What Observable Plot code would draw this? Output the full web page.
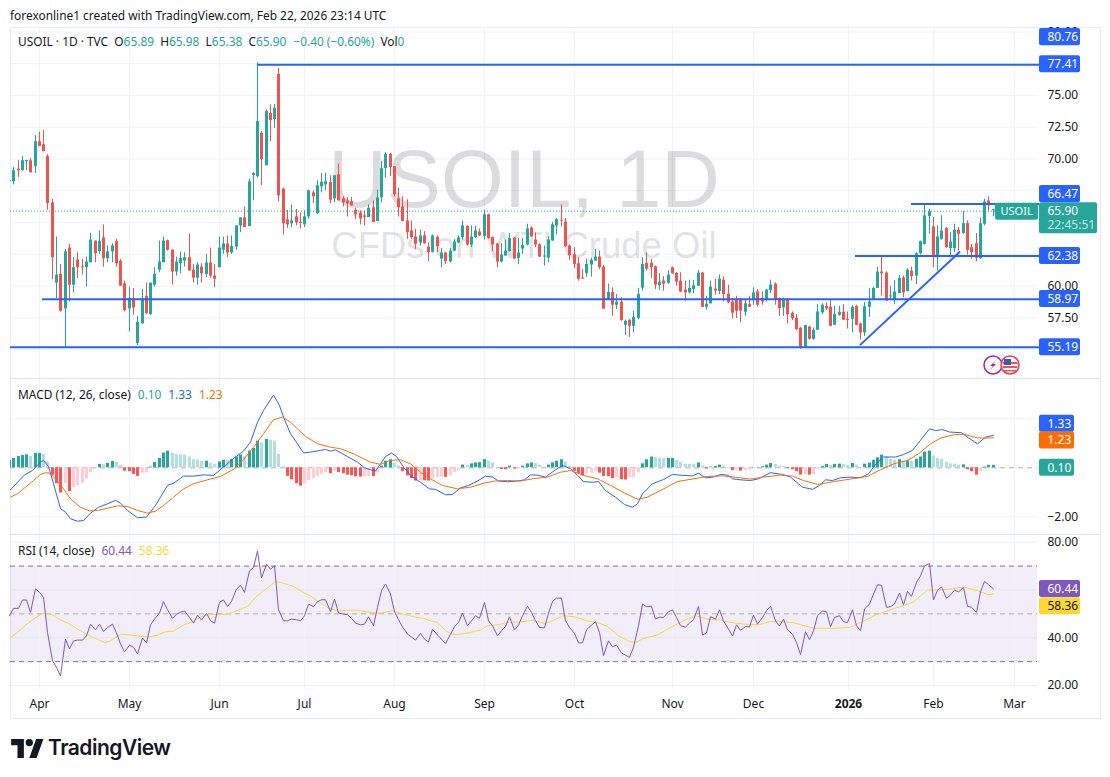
<!DOCTYPE html>
<html><head><meta charset="utf-8">
<script src="https://cdn.jsdelivr.net/npm/d3@7"></script>
<script src="https://cdn.jsdelivr.net/npm/@observablehq/plot@0.6"></script>
<style>
html,body{margin:0;padding:0;background:#fff;}
#page{position:relative;width:1110px;height:777px;overflow:hidden;font-family:"Noto Sans",sans-serif;color:#131722;font-size:11.9px;}
#frame{position:absolute;left:10px;top:27px;width:1089px;height:690px;border:1px solid #e9ebf2;box-sizing:content-box;}
.sep{position:absolute;left:10px;width:1090px;height:1px;background:#e0e3eb;}
.pane{position:absolute;left:0;width:1110px;}
.pane svg{display:block;}
.txt{position:absolute;white-space:nowrap;line-height:14px;}
.txt span{margin-left:7px;}
</style></head>
<body><div id="page">
<div id="frame"></div>
<div class="pane" id="p1" style="top:0"></div>
<div class="pane" id="p2" style="top:378px"></div>
<div class="pane" id="p3" style="top:534px"></div>
<div class="sep" style="top:378px"></div>
<div class="sep" style="top:534px"></div>
<div class="txt" style="left:10px;top:8px">forexonline1 created with TradingView.com, Feb 22, 2026 23:14 UTC</div>
<div class="txt" id="lg1" style="left:18px;top:34px"></div>
<div class="txt" id="lg2" style="left:18px;top:387px"></div>
<div class="txt" id="lg3" style="left:18px;top:543px"></div>
<svg style="position:absolute;left:11px;top:738px" width="33" height="20" viewBox="0 0 36 22"><path d="M14 22H7V8H0V1h14v21zM28 22h-8l7.5-21h8L28 22z" fill="#131722"/><circle cx="20" cy="5" r="4" fill="#131722"/></svg>
<div class="txt" style="left:48px;top:736px;font:600 21px/24px Inter,sans-serif;letter-spacing:-.5px">TradingView</div>
<svg style="position:absolute;left:982px;top:354px" width="40" height="24">
<circle cx="11" cy="11" r="9" fill="#fff" stroke="#9c27b0" stroke-width="1.5"/>
<path d="M14 6l-6 6h3l-3 4 6-6h-3z" fill="#9c27b0"/>
<circle cx="28" cy="11" r="9" fill="#fff" stroke="#f23645" stroke-width="1.5"/>
<path d="M20.5 8h15v2h-15zM20.5 12h15v2h-15zM22 16h12v1.5H22z" fill="#f0525f"/><rect x="22" y="5" width="7" height="6" fill="#3d5aa8"/>
</svg>
</div>
<script>
// ---------- daily candles ----------
const opens=[68.18,68.13,69.13,69.00,69.74,69.79,69.34,71.29,71.05,70.11,
66.47,60.16,60.84,58.13,62.92,60.00,61.97,61.42,61.37,61.76,
63.47,62.63,63.71,62.08,62.61,63.42,61.89,60.11,58.13,58.87,
55.42,56.95,59.13,57.68,60.00,61.18,61.76,63.50,62.76,61.03,
61.68,61.89,62.16,61.18,60.55,61.42,60.84,61.74,60.71,61.37,
62.76,63.24,62.53,63.00,64.66,65.29,64.61,68.63,68.53,71.95,
69.39,73.50,73.03,76.58,67.55,65.13,64.82,65.37,64.92,64.74,
65.37,67.26,65.63,67.74,67.89,68.08,66.79,68.68,66.79,66.63,
66.55,65.89,65.68,65.45,65.32,66.08,65.00,66.87,69.18,70.29,
69.32,66.79,66.16,65.05,64.26,63.79,63.32,63.89,63.00,62.58,
63.76,62.05,62.53,61.82,62.68,63.32,63.74,64.63,63.16,63.74,
64.18,63.82,65.53,63.74,63.24,61.82,62.29,62.63,63.71,62.11,
62.84,63.16,64.50,63.55,63.18,62.24,62.13,63.47,64.66,65.11,
64.97,63.08,62.39,61.68,60.55,60.92,61.58,61.89,62.21,61.42,
58.82,59.42,58.42,58.66,56.84,57.24,56.76,57.39,59.76,61.71,
61.71,61.45,59.97,60.32,60.16,61.37,60.92,60.32,59.61,59.39,
59.66,59.92,60.95,58.26,58.53,59.68,59.50,60.39,59.29,58.68,
58.79,58.79,57.87,58.47,58.79,59.47,58.95,58.79,59.58,60.08,
58.95,58.21,58.79,57.79,57.39,56.61,55.05,56.71,55.74,56.45,
57.82,58.32,58.26,56.84,57.63,57.87,57.29,57.32,58.32,56.95,
56.24,58.26,58.87,59.74,61.03,60.95,59.11,58.79,59.34,60.58,
59.50,61.11,60.71,62.47,63.21,65.39,64.58,62.16,63.61,64.45,
62.87,62.87,64.32,64.05,64.84,62.95,63.26,62.08,64.79,66.63,65.89];
const highs=[68.25,69.26,69.79,70.11,69.84,69.97,71.76,72.03,72.16,70.26,
66.74,63.79,61.63,62.82,63.21,62.16,62.55,62.03,62.21,64.08,
63.47,64.26,64.74,63.08,63.26,63.61,62.03,60.32,59.84,59.74,
57.55,59.66,60.16,60.16,61.37,63.47,63.79,63.55,62.76,62.21,
62.61,62.55,64.03,61.63,61.76,61.68,62.42,62.92,61.63,63.79,
63.79,63.87,63.87,64.66,65.29,66.16,68.34,68.87,77.50,72.08,
73.79,74.18,74.21,77.05,67.63,65.89,66.32,65.97,65.68,65.84,
67.47,67.42,68.21,68.79,68.82,68.61,68.61,69.53,66.95,66.89,
66.89,66.05,65.84,65.84,66.32,66.63,67.47,69.71,70.42,70.37,
69.32,67.63,66.95,66.71,65.05,64.39,64.34,64.21,63.32,63.95,
63.87,62.89,62.58,62.89,63.58,63.87,65.05,64.66,64.66,64.61,
64.42,65.92,65.58,63.79,63.29,63.26,63.55,64.05,63.74,63.68,
63.68,64.79,64.58,64.11,63.26,63.08,63.79,64.95,65.26,66.32,
65.26,63.16,62.95,62.16,61.24,62.03,62.11,62.82,62.68,61.55,
60.08,59.79,59.26,59.00,57.26,57.29,57.95,59.74,62.16,62.53,
62.03,61.50,60.92,60.66,61.11,61.42,61.00,60.97,60.32,60.39,
60.37,61.16,61.00,59.13,60.32,60.45,60.79,60.66,60.00,58.92,
59.13,58.95,58.79,59.13,59.79,59.66,59.47,59.66,60.39,60.18,
59.00,58.95,58.95,57.89,57.68,56.68,56.82,56.76,56.63,58.47,
58.53,58.61,58.87,58.34,58.34,58.47,57.89,58.39,58.42,57.03,
58.63,59.74,59.84,61.42,62.26,61.05,59.92,60.37,60.76,60.71,
61.32,61.42,62.55,63.47,66.32,65.97,65.32,64.66,65.45,64.53,
64.13,64.79,64.53,65.79,65.05,63.21,64.05,65.26,66.76,66.95,65.98];
const lows=[68.10,67.89,68.47,69.00,69.00,68.84,68.79,70.92,70.50,65.89,
60.42,58.95,57.89,55.05,58.68,59.39,60.53,60.79,59.84,61.76,
61.76,62.42,61.42,61.76,61.76,61.42,59.92,57.89,56.32,57.63,
55.26,56.95,57.74,57.63,59.84,60.97,61.76,62.68,60.00,60.71,
60.89,61.42,61.11,60.16,60.00,60.16,60.58,60.53,59.79,61.37,
62.42,62.16,62.42,62.74,64.13,64.53,64.61,66.63,68.42,67.82,
69.39,71.29,72.32,66.55,63.95,64.47,64.53,64.66,64.42,64.53,
65.21,66.42,65.55,67.26,67.42,66.42,66.50,66.63,66.16,65.37,
66.24,65.16,64.74,64.66,65.32,64.92,65.00,66.47,68.42,68.55,
66.95,65.37,65.00,63.61,63.61,62.79,63.08,63.21,61.84,62.53,
62.55,61.37,61.63,61.76,62.63,63.26,63.53,63.08,62.95,63.68,
63.82,63.55,63.61,62.63,61.37,61.74,62.29,62.61,62.03,61.61,
62.42,63.08,63.79,62.95,62.16,61.50,61.76,63.47,63.95,64.58,
62.95,61.95,61.32,60.32,60.45,60.63,60.63,61.89,61.21,58.11,
58.82,57.55,58.08,57.16,56.05,55.89,56.24,57.26,59.53,61.11,
60.53,59.66,59.58,59.53,60.05,60.84,59.92,59.42,58.74,59.32,
59.32,59.89,58.21,58.03,58.53,59.21,59.26,58.68,58.53,57.34,
57.37,57.03,57.55,58.26,58.42,58.26,58.42,58.68,59.34,58.42,
57.55,57.55,56.95,57.21,56.42,54.95,55.05,55.68,55.68,56.45,
57.68,58.00,56.74,56.84,57.55,57.21,56.55,56.24,56.79,55.68,
55.95,57.47,58.79,59.74,59.13,58.74,58.79,58.47,59.34,59.00,
59.47,60.32,60.05,62.37,63.16,64.00,61.37,61.11,63.53,62.89,
62.16,62.55,62.68,64.00,62.37,62.03,61.84,62.00,64.66,65.79,65.38];
const closes=[68.15,69.00,69.00,69.79,69.79,68.84,71.29,70.92,70.50,66.42,
62.16,60.79,57.95,62.61,60.00,61.37,61.37,61.37,61.82,63.55,
62.47,63.42,62.08,62.61,63.08,61.68,59.92,58.00,58.92,58.21,
57.08,58.92,57.74,60.16,60.84,61.82,63.47,62.74,61.03,61.82,
62.08,62.16,61.11,60.55,61.58,60.89,61.74,60.71,60.47,62.92,
63.24,62.53,63.05,64.66,65.29,64.53,68.13,68.79,72.87,69.87,
73.66,72.95,73.92,67.03,64.82,64.74,65.05,64.89,64.87,65.37,
67.42,66.95,67.82,68.08,68.13,66.68,68.61,66.63,66.47,66.39,
66.24,65.53,65.21,65.34,66.05,64.92,66.87,69.16,70.26,69.26,
67.11,66.08,65.00,64.13,63.74,63.21,63.87,63.26,62.55,63.87,
63.03,62.53,61.84,62.68,63.39,63.71,64.66,63.16,63.79,64.26,
63.87,65.53,63.66,63.16,61.82,62.37,62.68,63.66,62.05,62.53,
63.13,64.42,63.79,63.16,62.21,62.26,63.55,64.74,65.16,65.05,
63.03,62.32,61.63,60.47,60.50,61.63,61.97,62.21,61.37,58.11,
59.42,58.42,58.66,57.21,57.16,56.76,57.47,59.26,61.63,61.26,
61.37,60.00,60.24,60.08,60.79,60.89,60.24,59.45,59.39,59.74,
59.95,60.95,58.26,58.50,59.84,59.53,60.47,59.26,58.61,57.79,
57.95,57.95,58.53,58.26,59.39,58.42,58.68,59.61,60.00,58.87,
58.16,58.79,57.68,57.37,56.50,55.05,56.82,55.74,56.45,57.89,
58.42,58.13,56.76,57.68,57.87,57.24,57.24,58.26,56.84,56.24,
58.29,58.68,59.74,61.03,60.89,58.74,59.13,59.45,60.53,59.39,
61.18,60.68,62.47,63.42,65.45,65.76,62.16,63.79,64.26,62.95,
63.39,64.32,64.00,64.84,62.74,62.55,62.11,64.84,66.55,66.24,65.90];

// ---------- MACD histogram, one value per bar ----------
const histogram=[.30,.38,.46,.50,.53,.46,.59,.59,.54,.22,
-.31,-.65,-1.03,-.65,-.97,-.82,-.72,-.63,-.45,-.19,
-.05,.14,.13,.18,.26,.22,.10,-.14,-.16,-.27,
-.35,-.22,-.21,.03,.22,.38,.60,.68,.59,.54,
.53,.52,.44,.33,.31,.26,.27,.19,.14,.24,
.31,.30,.34,.44,.52,.46,.68,.79,1.09,1.01,
1.16,1.12,1.09,.54,.03,-.35,-.49,-.65,-.75,-.65,
-.52,-.44,-.35,-.27,-.20,-.24,-.14,-.19,-.24,-.30,
-.33,-.37,-.38,-.37,-.35,-.36,-.22,.07,.27,.33,
.19,.07,-.16,-.33,-.44,-.54,-.52,-.53,-.54,-.46,
-.39,-.38,-.39,-.33,-.19,-.11,.11,.10,.16,.20,
.21,.33,.27,.19,.01,-.07,-.08,.07,-.05,-.04,
.07,.16,.20,.19,.11,.01,.11,.20,.27,.33,
.24,.07,-.14,-.23,-.33,-.27,-.22,-.16,-.22,-.35,
-.36,-.44,-.41,-.49,-.50,-.41,-.40,-.19,.16,.33,
.44,.41,.39,.37,.38,.38,.30,.22,.15,.14,
.13,.20,.07,-.05,.03,.05,.11,.07,-.01,-.11,
-.10,-.14,-.11,-.10,.01,.01,.04,.11,.18,.14,
.07,.06,-.03,-.08,-.16,-.30,-.27,-.30,-.27,-.08,
.05,.14,.10,.14,.15,.14,.10,.18,.11,.01,
.15,.19,.30,.41,.52,.44,.34,.30,.33,.27,
.28,.27,.35,.44,.64,.68,.49,.38,.34,.23,
.16,.15,.11,.12,-.08,-.16,-.30,-.16,.03,.10,.10];

// ---------- MACD line and signal line, read at the bars where they turn ----------
const macdBars=[.2,1.8,3.4,5.3,7.2,8,9.2,10.4,11.9,13.1,14.3,15.8,17.4,18.9,20.9,22.8,24.8,26,27.5,29.9,32,34.1,35.3,36.9,38.4,40.8,43.1,45.4,47.8,50.1,52.5,54.8,56.4,57.9,59.5,61.8,63.2,64.1,65.7,67.3,68.8,70.4,72.7,73.9,75.1,76.2,79,81.3,82.9,84.4,85.6,86.7,87.9,89.2,90.6,92.2,93.8,96.1,98.1,99.6,102,103.5,105.5,107.4,109.4,111.3,112.9,114.4,116.4,118.7,120.3,121.8,123.4,125.3,127.3,129.2,131.2,132.7,134.3,136.3,137.8,139.4,141.8,143.7,145.6,146.8,147.9,150.3,153,155,157.3,159.7,161.2,162.8,164.7,166.3,168.2,169,170.9,173.3,175.2,177.9,180.7,182.6,185.4,187.7,189.3,190.8,192.4,194.3,196.6,199,200.9,202.9,204.4,207.2,209.1,211.1,213,215.2,216.5,218.1,219.7,222.7,224.3,226.3,228.2,230];
const macdValues=[-.90,-.59,-.29,-.11,.23,.30,.05,-.65,-1.67,-1.81,-2.08,-2.18,-2.15,-1.85,-1.61,-1.47,-1.33,-1.44,-1.74,-2.04,-2.01,-1.54,-1.20,-.72,-.63,-.34,-.34,-.29,-.31,.03,.41,.68,1.05,1.86,2.34,2.97,2.54,2.07,1.39,.98,.61,.64,.71,.75,.68,.73,.46,.23,0,-.08,-.14,.16,.46,.60,.46,.03,-.31,-.59,-.86,-.88,-1.10,-1.09,-.82,-.72,-.54,-.34,-.38,-.54,-.57,-.54,-.49,-.29,-.30,-.38,-.14,.10,-.04,-.31,-.56,-.59,-.56,-.93,-1.20,-1.50,-1.61,-1.47,-1.06,-.65,-.48,-.27,-.31,-.33,-.22,-.41,-.38,-.27,-.31,-.45,-.49,-.52,-.45,-.20,-.27,-.38,-.79,-.88,-.72,-.49,-.52,-.41,-.38,-.41,-.24,.23,.44,.44,.54,.71,1.12,1.59,1.52,1.56,1.46,1.43,1.22,.98,1.25,1.33];
const signalBars=[.2,1.8,3.7,5.7,7.2,8.4,9.6,11.1,12.7,14.3,16.6,18.6,20.5,22.8,25.2,27.5,29.9,32.2,34.1,36.1,38.4,40.8,43.1,46.2,49.3,52.5,54.8,57.1,59.5,61.8,63.8,65.7,67.3,69.2,71.9,75.1,77.4,80.5,84.4,86.7,89.1,91.4,93.8,96.1,98.4,101.2,104.7,107.8,110.9,113.3,116.4,119.5,122.6,125.7,128.9,131.2,134.3,137.4,140.5,143.7,146.8,149.1,153,156.1,160,163.1,167,170.9,173.3,176.4,180.3,183,185.7,188.9,192.8,197.4,200.5,203.7,206.8,209.9,212.6,215.3,217.7,220.8,223.1,226.3,228.2,230];
const signalValues=[-1.20,-1.06,-.79,-.52,-.27,-.20,-.22,-.52,-.86,-1.27,-1.61,-1.76,-1.74,-1.65,-1.55,-1.58,-1.74,-1.85,-1.77,-1.54,-1.20,-.86,-.65,-.49,-.35,-.04,.33,.84,1.39,1.96,2.07,1.86,1.59,1.28,.98,.84,.78,.57,.23,.14,.30,.33,.16,-.18,-.45,-.72,-.86,-.79,-.63,-.54,-.52,-.54,-.44,-.38,-.18,-.11,-.31,-.45,-.72,-1.03,-1.28,-1.20,-.86,-.56,-.45,-.35,-.33,-.41,-.46,-.38,-.30,-.34,-.52,-.68,-.56,-.44,-.35,-.08,.16,.30,.57,.98,1.21,1.35,1.37,1.22,1.21,1.23];

// ---------- RSI, one value per bar ----------
const rsi=[49.2,52.3,52.3,55.8,55.8,50.6,60.5,59.0,56.9,42.2,
30.4,27.6,24.0,39.4,35.3,38.7,39.0,39.0,40.8,45.7,
43.3,45.7,42.6,44.3,45.7,42.0,37.4,34.1,36.9,36.0,
33.2,39.9,37.8,45.4,47.8,50.3,55.1,51.7,48.1,49.8,
50.7,51.2,48.5,46.1,49.5,47.4,50.2,47.1,46.1,54.8,
55.8,53.1,55.2,60.4,62.0,59.0,68.0,69.4,76.3,65.0,
70.8,68.7,70.1,51.7,47.1,47.1,47.8,47.5,47.1,49.2,
54.1,53.0,55.1,55.9,55.9,51.0,56.2,50.3,49.9,49.6,
48.1,46.1,45.4,45.7,48.8,45.0,52.7,59.7,62.5,58.3,
50.9,47.5,44.6,41.5,40.3,39.0,41.8,39.4,38.2,43.6,
41.1,39.4,37.5,41.5,44.6,46.4,50.3,45.0,47.1,49.2,
48.1,54.8,47.1,45.0,40.8,42.9,44.7,48.8,43.2,45.3,
49.2,53.2,50.6,47.1,44.3,44.2,50.3,55.2,56.6,56.6,
47.1,44.3,41.8,37.8,37.9,43.3,45.3,46.7,42.2,32.5,
38.7,36.2,36.9,33.6,32.7,31.8,36.0,45.0,54.1,53.0,
53.2,47.8,48.6,48.5,50.9,51.6,48.5,45.0,44.5,46.1,
47.5,53.1,41.1,42.0,48.8,47.8,51.7,47.0,43.6,40.7,
45.4,43.1,44.7,44.6,49.5,45.7,48.5,51.3,53.2,47.1,
44.9,47.8,43.3,41.5,38.0,32.9,42.5,39.2,42.9,49.2,
51.2,50.9,44.6,48.5,49.2,46.7,46.4,51.7,45.0,42.9,
52.0,54.1,58.3,62.2,62.0,52.7,53.0,54.1,58.7,53.8,
59.4,57.3,63.2,65.9,70.1,71.1,55.8,59.9,61.3,56.5,
57.9,59.9,59.2,61.1,53.1,52.8,50.6,59.2,63.6,62.2,60.44];
// RSI moving average, read at its bends
const rsiMaBars=[.2,1.8,3.7,5.7,7.6,9.2,10.8,11.9,13.5,15.8,18.2,20.1,22.1,23.2,24.8,26.3,28.3,30.6,32.6,34.5,36.5,38.4,40.8,43.1,45,47,49.3,51.7,53.6,55.6,57.5,59.5,61,62.2,64.1,66.5,68.5,70.4,72.4,74.7,76.6,79,81.3,84.4,86.7,89.5,92.2,94.9,96.9,98.4,100,101.9,103.5,105.5,107.8,110.1,111.7,114,116.8,119.5,122.3,125.4,127.3,129.2,132,135.1,137.4,139.8,142.5,145.2,146.4,148.3,151.4,154.5,157.7,160.4,163.1,166.3,168.6,171.7,175.2,177.9,183,188,191.9,196.3,199.4,202.9,206,211.1,214.6,218.5,223.2,226.3,229,230];
const rsiMaValues=[40.1,42.2,45.3,47.8,50.2,50.2,49.0,47.4,46.2,43.6,41.3,39.7,38.0,38.3,40.1,41.5,41.1,40.6,40.3,41.1,42.5,42.8,45.3,46.9,48.8,49.8,49.6,50.2,51.7,53.1,56.9,59.7,61.8,63.6,62.8,61.5,59.2,57.5,54.8,52.4,51.3,51.5,51.5,50.6,50.3,51.3,49.9,48.6,48.1,47.1,46.4,42.9,41.4,41.5,42.2,43.3,45.0,45.4,46.5,46.6,47.3,45.9,47.3,49.2,48.8,47.0,46.4,44.7,40.8,38.3,38.0,39.7,41.2,44.3,47.1,49.2,47.8,47.4,46.4,45.7,45.4,46.8,46.4,44.0,43.9,44.3,46.7,49.9,51.7,54.8,59.9,60.1,61.2,59.7,58.0,58.36];

// ---------- axes ----------
const monthBars=[7,28,49,69,90,111,132,155,174,216,235];
const monthNames=["Apr","May","Jun","Jul","Aug","Sep","Oct","Nov","Dec","Feb","Mar"];
const yearBars=[196.2], yearNames=["2026"];
const priceGrid=[55,57.5,60,62.5,65,67.5,70,72.5,75,77.5,80];
const priceTicks=[57.5,60,70,72.5,75,80];
const macdGrid=[2,-2], macdTicks=[-2];
const rsiGrid=[20,40,60,80], rsiTicks=[20,40,80];

// ---------- drawn levels (value, first bar) ----------
const levelValues=[77.41,66.47,62.38,58.97,55.19];
const levelStarts=[58,210.9,197.8,7.7,0.3];
const trendBars=[199,222.2], trendValues=[55.4,62.68];
const lastPrice=65.90;

// ---------- colours ----------
const UP="#26a69a",DOWN="#ef5350",BLUE="#2962ff",ORANGE="#ff6d00",PURPLE="#7e57c2",YELLOW="#fdd835",GRID="#f0f3fa",INK="#131722";
const FONT='"Noto Sans",sans-serif';

const bars=closes.map((c,i)=>({i,o:opens[i],h:highs[i],l:lows[i],c,color:c>=opens[i]?UP:DOWN,
  top:Math.max(opens[i],c,(opens[i]+c)/2+0.04),bot:Math.min(opens[i],c,(opens[i]+c)/2-0.04)}));
const hist=histogram.map((v,i)=>{const p=i?histogram[i-1]:0;return{i,v,color:v>=0?(v>=p?UP:"#b2dfdb"):(v<=p?"#ff5252":"#ffcdd2")}});
const pts=(xs,ys)=>xs.map((x,k)=>({x,y:ys[k]}));
const X={type:"linear",domain:[0,230],range:[9,992.7],round:true,axis:null};
const TAG_L=240.8,TAG_R=250.4,TAG_T=242.7;
const fmt=d3.format(".2f"),fmtM=v=>fmt(v).replace("-","\u2212");

function tagMarks(tags,half){return[
  Plot.rect(tags,{x1:d=>d.left??TAG_L,x2:d=>d.right??TAG_R,y1:d=>d.at-(d.half??half),y2:d=>d.at+(d.half??half),fill:d=>d.bg,rx:2}),
  Plot.text(tags,{x:d=>d.tx??TAG_T,y:d=>d.ty??d.at,text:"label",fill:d=>d.fg??"#fff",textAnchor:"start",fontSize:d=>d.fs??12,fontFamily:FONT})
];}
function yAxis(ticks){return Plot.axisY(ticks,{anchor:"right",tickSize:0,tickPadding:10,tickFormat:fmtM,textAnchor:"start",fontSize:12,fill:INK,fontFamily:FONT,label:null});}
const base={width:1110,marginLeft:10,marginRight:73,x:X,color:{type:"identity"},style:{background:"transparent",fontFamily:FONT,overflow:"visible"}};

// ---------- price pane ----------
const priceTags=[
 {label:"80.76",at:79.59,bg:BLUE},{label:"77.41",at:77.45,bg:BLUE},{label:"66.47",at:67.24,bg:BLUE},
 {label:"62.38",at:62.38,bg:BLUE},{label:"58.97",at:58.99,bg:BLUE},{label:"55.19",at:55.2,bg:BLUE},
 {label:"USOIL",at:65.85,bg:UP,left:230.6,right:240.7,tx:231.8,fs:11},
 {label:"65.90",at:65.35,half:1.22,right:254.4,ty:65.87,bg:UP}
];
document.getElementById("p1").append(Plot.plot({...base,height:378,marginTop:27,marginBottom:0,
 y:{domain:[55,77.5],range:[349.2,63.2],axis:null},
 marks:[
  Plot.gridX(monthBars.concat(yearBars),{stroke:GRID,strokeOpacity:1}),
  Plot.gridY(priceGrid,{stroke:GRID,strokeOpacity:1}),
  Plot.text(["USOIL, 1D"],{frameAnchor:"middle",dy:-22,fontSize:81,fontFamily:"Liberation Sans",fill:INK,fillOpacity:.15}),
  Plot.text(["CFDs on WTI Crude Oil"],{frameAnchor:"middle",dy:43,fontSize:36.5,fontFamily:"Liberation Sans",fill:INK,fillOpacity:.15}),
  Plot.ruleY([lastPrice],{stroke:UP,strokeDasharray:"1 2"}),
  yAxis(priceTicks),
  Plot.ruleX(bars,{x:"i",y1:"l",y2:"h",stroke:"color",strokeWidth:1,dy:-1,clip:"frame"}),
  Plot.ruleX(bars,{x:"i",y1:"bot",y2:"top",stroke:"color",strokeWidth:3,dy:-1,clip:"frame"}),
  Plot.ruleY(levelValues.map((v,k)=>({v,s:levelStarts[k]})),{y:"v",x1:"s",x2:()=>TAG_L,stroke:BLUE,strokeWidth:2}),
  Plot.line(pts(trendBars,trendValues),{x:"x",y:"y",stroke:BLUE,strokeWidth:2}),
  ...tagMarks(priceTags,.67),
  Plot.text(["22:45:51"],{x:()=>TAG_T,y:()=>64.78,textAnchor:"start",fontSize:12,fill:"#fff",fillOpacity:.75,fontFamily:FONT})
 ]}));

// ---------- MACD pane ----------
document.getElementById("p2").append(Plot.plot({...base,height:156,marginTop:0,marginBottom:0,
 y:{domain:[-2,2],range:[138.3,40.3],axis:null},
 marks:[
  Plot.gridX(monthBars.concat(yearBars),{stroke:GRID,strokeOpacity:1}),
  Plot.gridY(macdGrid,{stroke:GRID,strokeOpacity:1}),
  Plot.ruleY([0],{stroke:"#787b86",strokeOpacity:.6,strokeDasharray:"5 4"}),
  yAxis(macdTicks),
  Plot.ruleX(hist,{x:"i",y1:0,y2:"v",stroke:"color",strokeWidth:3,clip:"frame"}),
  Plot.line(pts(macdBars,macdValues),{x:"x",y:"y",stroke:BLUE,strokeWidth:1}),
  Plot.line(pts(signalBars,signalValues),{x:"x",y:"y",stroke:ORANGE,strokeWidth:1}),
  ...tagMarks([{label:"1.33",at:1.8,bg:BLUE,right:249},{label:"1.23",at:1.11,bg:ORANGE,right:249},{label:"0.10",at:0,bg:UP,right:249}],.347)
 ]}));

// ---------- RSI pane and time axis ----------
document.getElementById("p3").append(Plot.plot({...base,height:183,marginTop:0,marginBottom:28,
 y:{domain:[20,80],range:[151,7.7],axis:null},
 marks:[
  Plot.rect([{}],{y1:()=>30,y2:()=>70,fill:PURPLE,fillOpacity:.1}),
  Plot.gridX(monthBars.concat(yearBars),{stroke:GRID,strokeOpacity:1}),
  Plot.gridY(rsiGrid,{stroke:"#dfe1e8",strokeOpacity:.6}),
  Plot.ruleY([70,30],{stroke:"#787b86",strokeDasharray:"5 4"}),
  Plot.ruleY([50],{stroke:"#787b86",strokeOpacity:.55,strokeDasharray:"5 4"}),
  yAxis(rsiTicks),
  Plot.axisX(monthBars,{anchor:"bottom",tickSize:0,tickPadding:10,tickFormat:v=>monthNames[monthBars.indexOf(v)],fontSize:12,fill:INK,fontFamily:FONT,label:null}),
  Plot.axisX(yearBars,{anchor:"bottom",tickSize:0,tickPadding:10,tickFormat:v=>yearNames[yearBars.indexOf(v)],fontSize:12,fontWeight:700,fill:INK,fontFamily:FONT,label:null}),
  Plot.line(pts(rsiMaBars,rsiMaValues),{x:"x",y:"y",stroke:YELLOW,strokeWidth:1}),
  Plot.line(rsi.map((y,x)=>({x,y})),{x:"x",y:"y",stroke:PURPLE,strokeWidth:1}),
  ...tagMarks([{label:"60.44",at:60.44,bg:PURPLE},{label:"58.36",at:53.2,bg:YELLOW,fg:INK}],3.57)
 ]}));

// ---------- legends ----------
const c=(t,col)=>`<span style="color:${col}">${t}</span>`, g=UP;
document.getElementById("lg1").innerHTML=`USOIL \u00b7 1D \u00b7 TVC &nbsp;O<span style="color:${g};margin:0">65.89</span>&nbsp; H<span style="color:${g};margin:0">65.98</span>&nbsp; L<span style="color:${g};margin:0">65.38</span>&nbsp; C<span style="color:${g};margin:0">65.90</span>${c("\u22120.40 (\u22120.60%)",g)}&nbsp; Vol<span style="color:${g};margin:0">0</span>`;
document.getElementById("lg2").innerHTML=`MACD (12, 26, close)${c("0.10",g)}${c("1.33",BLUE)}${c("1.23",ORANGE)}`;
document.getElementById("lg3").innerHTML=`RSI (14, close)${c("60.44",PURPLE)}${c("58.36",YELLOW)}`;
</script>
</body></html>
